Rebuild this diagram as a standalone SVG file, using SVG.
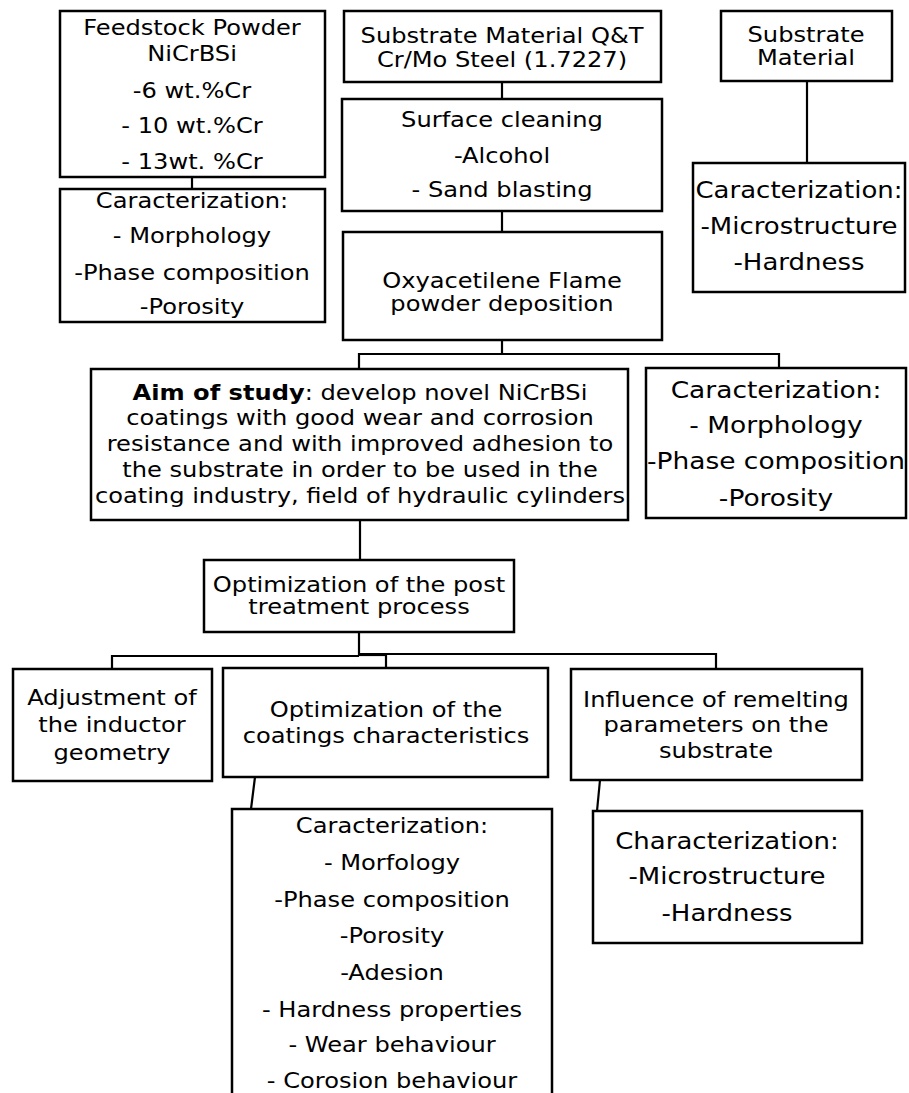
<svg xmlns="http://www.w3.org/2000/svg" width="909" height="1093" viewBox="0 0 909 1093">
<style>
.box{fill:#fff;stroke:#000;stroke-width:2.5}
.t{font-family:"DejaVu Sans","Verdana",sans-serif;font-size:21px;fill:#000;text-anchor:middle}
.big{font-size:23px}
.c{fill:none;stroke:#000;stroke-width:2.2}
</style>
<rect width="909" height="1093" fill="#fff"/>
<g id="connectors">
<line class="c" x1="192" y1="177" x2="192" y2="189"/>
<line class="c" x1="502" y1="82" x2="502" y2="99"/>
<line class="c" x1="502" y1="211" x2="502" y2="232"/>
<line class="c" x1="807" y1="81" x2="807" y2="163"/>
<polyline class="c" points="502,340 502,354"/>
<polyline class="c" points="359,369 359,354 779,354 779,368"/>
<line class="c" x1="360" y1="520" x2="360" y2="560"/>
<line class="c" x1="359" y1="632" x2="359" y2="655"/>
<polyline class="c" points="112,669 112,656 359,656"/>
<polyline class="c" points="359,654 716,654 716,669"/>
<line class="c" x1="359" y1="655" x2="387" y2="655" stroke-width="4"/>
<line class="c" x1="386" y1="654" x2="386" y2="668"/>
<line class="c" x1="255" y1="777" x2="251" y2="809"/>
<line class="c" x1="600" y1="780" x2="597" y2="811"/>
</g>
<g id="feedstock">
<rect class="box" x="60" y="11" width="265" height="166"/>
<text class="t" transform="translate(192,0) scale(1.15,1)"><tspan x="0" y="35">Feedstock Powder</tspan><tspan x="0" y="61">NiCrBSi</tspan><tspan x="0" y="98">-6 wt.%Cr</tspan><tspan x="0" y="133">- 10 wt.%Cr</tspan><tspan x="0" y="169">- 13wt. %Cr</tspan></text>
</g>
<g id="feed-char">
<rect class="box" x="60" y="189" width="265" height="133"/>
<text class="t" transform="translate(192,0) scale(1.15,1)"><tspan x="0" y="208">Caracterization:</tspan><tspan x="0" y="243">- Morphology</tspan><tspan x="0" y="280">-Phase composition</tspan><tspan x="0" y="314">-Porosity</tspan></text>
</g>
<g id="substrate">
<rect class="box" x="344" y="11" width="317" height="71"/>
<text class="t" transform="translate(502,0) scale(1.15,1)"><tspan x="0" y="43">Substrate Material Q&amp;T</tspan><tspan x="0" y="67">Cr/Mo Steel (1.7227)</tspan></text>
</g>
<g id="surface">
<rect class="box" x="342" y="99" width="320" height="112"/>
<text class="t" transform="translate(502,0) scale(1.15,1)"><tspan x="0" y="127">Surface cleaning</tspan><tspan x="0" y="163">-Alcohol</tspan><tspan x="0" y="197">- Sand blasting</tspan></text>
</g>
<g id="oxy">
<rect class="box" x="343" y="232" width="319" height="108"/>
<text class="t" transform="translate(502,0) scale(1.15,1)"><tspan x="0" y="288">Oxyacetilene Flame</tspan><tspan x="0" y="311">powder deposition</tspan></text>
</g>
<g id="substrate-right">
<rect class="box" x="721" y="11" width="171" height="70"/>
<text class="t" transform="translate(806,0) scale(1.15,1)"><tspan x="0" y="42">Substrate</tspan><tspan x="0" y="65">Material</tspan></text>
</g>
<g id="right-char">
<rect class="box" x="693" y="163" width="212" height="129"/>
<text class="t big" transform="translate(799,0) scale(1.13,1)"><tspan x="0" y="198">Caracterization:</tspan><tspan x="0" y="234">-Microstructure</tspan><tspan x="0" y="270">-Hardness</tspan></text>
</g>
<g id="aim">
<rect class="box" x="91" y="369" width="537" height="151"/>
<text class="t" transform="translate(360,0) scale(1.15,1)"><tspan x="0" y="400"><tspan font-weight="bold">Aim of study</tspan>: develop novel NiCrBSi</tspan><tspan x="0" y="425.5">coatings with good wear and corrosion</tspan><tspan x="0" y="451.5">resistance and with improved adhesion to</tspan><tspan x="0" y="477">the substrate in order to be used in the</tspan><tspan x="0" y="503">coating industry, field of hydraulic cylinders</tspan></text>
</g>
<g id="mid-char">
<rect class="box" x="646" y="368" width="260" height="150"/>
<text class="t big" transform="translate(776,0) scale(1.15,1)"><tspan x="0" y="398">Caracterization:</tspan><tspan x="0" y="433">- Morphology</tspan><tspan x="0" y="469">-Phase composition</tspan><tspan x="0" y="506">-Porosity</tspan></text>
</g>
<g id="post">
<rect class="box" x="204" y="560" width="310" height="72"/>
<text class="t" transform="translate(359,0) scale(1.15,1)"><tspan x="0" y="592">Optimization of the post</tspan><tspan x="0" y="614">treatment process</tspan></text>
</g>
<g id="adjust">
<rect class="box" x="13" y="669" width="199" height="112"/>
<text class="t" transform="translate(112,0) scale(1.15,1)"><tspan x="0" y="705">Adjustment of</tspan><tspan x="0" y="732">the inductor</tspan><tspan x="0" y="760">geometry</tspan></text>
</g>
<g id="opt-coat">
<rect class="box" x="223" y="668" width="325" height="109"/>
<text class="t" transform="translate(386,0) scale(1.15,1)"><tspan x="0" y="717">Optimization of the</tspan><tspan x="0" y="743">coatings characteristics</tspan></text>
</g>
<g id="influence">
<rect class="box" x="571" y="669" width="291" height="111"/>
<text class="t" transform="translate(716,0) scale(1.15,1)"><tspan x="0" y="707">Influence of remelting</tspan><tspan x="0" y="732">parameters on the</tspan><tspan x="0" y="758">substrate</tspan></text>
</g>
<g id="coat-char">
<rect class="box" x="232" y="809" width="320" height="300"/>
<text class="t" transform="translate(392,0) scale(1.15,1)"><tspan x="0" y="833">Caracterization:</tspan><tspan x="0" y="870">- Morfology</tspan><tspan x="0" y="907">-Phase composition</tspan><tspan x="0" y="943">-Porosity</tspan><tspan x="0" y="980">-Adesion</tspan><tspan x="0" y="1017">- Hardness properties</tspan><tspan x="0" y="1052">- Wear behaviour</tspan><tspan x="0" y="1088">- Corosion behaviour</tspan></text>
</g>
<g id="sub-char">
<rect class="box" x="593" y="811" width="269" height="132"/>
<text class="t big" transform="translate(727,0) scale(1.13,1)"><tspan x="0" y="849">Characterization:</tspan><tspan x="0" y="884">-Microstructure</tspan><tspan x="0" y="921">-Hardness</tspan></text>
</g>
</svg>
